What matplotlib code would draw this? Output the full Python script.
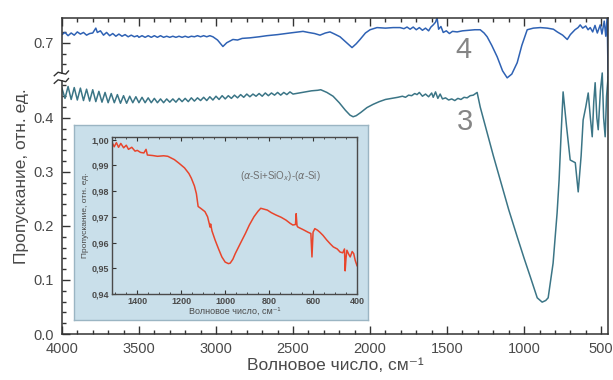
import numpy as np
import matplotlib
matplotlib.use("Agg")
import matplotlib.pyplot as plt
from matplotlib.ticker import MultipleLocator, FixedLocator

plt.rcParams['font.family'] = ['Liberation Sans', 'DejaVu Sans']

# curve 3 (lower), wavenumber cm-1 / transmittance
curve3 = [
    (4000, 0.455), (3980, 0.436), (3960, 0.458), (3940, 0.434), (3920, 0.456),
    (3900, 0.433), (3880, 0.455), (3860, 0.432), (3840, 0.453), (3820, 0.431),
    (3800, 0.452), (3780, 0.430), (3760, 0.449), (3740, 0.429), (3720, 0.447),
    (3700, 0.428), (3680, 0.445), (3660, 0.428), (3640, 0.443), (3620, 0.427),
    (3600, 0.441), (3580, 0.427), (3560, 0.440), (3540, 0.428), (3520, 0.439),
    (3500, 0.428), (3480, 0.438), (3460, 0.428), (3440, 0.437), (3420, 0.428),
    (3400, 0.436), (3380, 0.428), (3360, 0.435), (3340, 0.428), (3320, 0.435),
    (3300, 0.429), (3280, 0.435), (3260, 0.429), (3240, 0.436), (3220, 0.430),
    (3200, 0.436), (3180, 0.430), (3160, 0.437), (3140, 0.431), (3120, 0.437),
    (3100, 0.432), (3080, 0.438), (3060, 0.432), (3040, 0.439), (3020, 0.433),
    (3000, 0.440), (2980, 0.434), (2960, 0.441), (2940, 0.435), (2920, 0.441),
    (2900, 0.436), (2880, 0.442), (2860, 0.437), (2840, 0.443), (2820, 0.438),
    (2800, 0.444), (2780, 0.439), (2760, 0.444), (2740, 0.440), (2720, 0.445),
    (2700, 0.440), (2680, 0.446), (2660, 0.441), (2640, 0.446), (2620, 0.442),
    (2600, 0.447), (2580, 0.442), (2560, 0.447), (2540, 0.443), (2520, 0.448),
    (2500, 0.444), (2460, 0.446), (2420, 0.448), (2380, 0.450), (2340, 0.451),
    (2320, 0.452), (2280, 0.447), (2240, 0.440), (2200, 0.428), (2160, 0.414),
    (2130, 0.405), (2110, 0.402), (2090, 0.404), (2060, 0.410), (2020, 0.419),
    (1980, 0.425), (1940, 0.430), (1900, 0.434), (1860, 0.436), (1820, 0.438),
    (1790, 0.440), (1770, 0.438), (1750, 0.442), (1730, 0.441), (1710, 0.445),
    (1695, 0.443), (1680, 0.447), (1660, 0.440), (1640, 0.444), (1620, 0.439),
    (1600, 0.446), (1590, 0.438), (1575, 0.448), (1560, 0.436), (1545, 0.444),
    (1530, 0.435), (1510, 0.437), (1490, 0.433), (1470, 0.435), (1450, 0.432),
    (1430, 0.436), (1410, 0.434), (1390, 0.438), (1370, 0.437), (1350, 0.441),
    (1330, 0.442), (1305, 0.447), (1285, 0.420), (1240, 0.372), (1200, 0.330),
    (1155, 0.285), (1100, 0.230), (1045, 0.180), (1000, 0.140), (960, 0.106),
    (915, 0.067), (883, 0.059), (860, 0.062), (844, 0.067), (812, 0.131),
    (786, 0.224), (773, 0.285), (760, 0.370), (747, 0.448), (725, 0.385),
    (701, 0.322), (668, 0.317), (649, 0.263), (630, 0.330), (617, 0.396),
    (600, 0.420), (584, 0.446), (570, 0.400), (558, 0.365), (548, 0.430),
    (539, 0.465), (528, 0.400), (519, 0.378), (505, 0.450), (493, 0.483),
    (484, 0.400), (474, 0.365), (465, 0.440), (455, 0.476),
]

# curve 4 (upper, above the axis break)
curve4 = [
    (4000, 0.715), (3980, 0.719), (3960, 0.713), (3940, 0.718), (3920, 0.714),
    (3900, 0.720), (3880, 0.716), (3860, 0.719), (3840, 0.714), (3820, 0.717),
    (3800, 0.718), (3780, 0.727), (3770, 0.719), (3750, 0.722), (3730, 0.714),
    (3710, 0.719), (3690, 0.713), (3670, 0.717), (3650, 0.712), (3630, 0.716),
    (3610, 0.712), (3590, 0.715), (3570, 0.711), (3550, 0.714), (3530, 0.711),
    (3510, 0.713), (3500, 0.710), (3480, 0.713), (3460, 0.710), (3440, 0.713),
    (3420, 0.710), (3400, 0.713), (3380, 0.710), (3360, 0.713), (3340, 0.710),
    (3320, 0.712), (3300, 0.710), (3280, 0.712), (3260, 0.710), (3240, 0.712),
    (3220, 0.710), (3200, 0.712), (3180, 0.710), (3160, 0.712), (3140, 0.711),
    (3120, 0.713), (3100, 0.711), (3080, 0.713), (3060, 0.711), (3040, 0.713),
    (3020, 0.711), (2990, 0.705), (2955, 0.693), (2930, 0.700), (2890, 0.706),
    (2860, 0.705), (2830, 0.708), (2780, 0.709), (2720, 0.711), (2670, 0.713),
    (2600, 0.715), (2520, 0.718), (2460, 0.720), (2435, 0.721), (2400, 0.719),
    (2360, 0.717), (2325, 0.714), (2290, 0.718), (2260, 0.720), (2230, 0.716),
    (2195, 0.711), (2160, 0.702), (2117, 0.691), (2090, 0.698), (2065, 0.706),
    (2030, 0.718), (2000, 0.724), (1955, 0.728), (1900, 0.727), (1850, 0.728),
    (1805, 0.728), (1780, 0.726), (1760, 0.729), (1740, 0.725), (1720, 0.729),
    (1700, 0.724), (1680, 0.728), (1660, 0.723), (1640, 0.727), (1620, 0.722),
    (1605, 0.729), (1590, 0.733), (1575, 0.738), (1565, 0.746), (1555, 0.725),
    (1540, 0.730), (1525, 0.719), (1505, 0.722), (1485, 0.717), (1465, 0.721),
    (1435, 0.720), (1400, 0.722), (1360, 0.723), (1320, 0.724), (1285, 0.724),
    (1260, 0.718), (1240, 0.711), (1210, 0.695), (1175, 0.674), (1140, 0.648),
    (1110, 0.635), (1080, 0.642), (1045, 0.663), (1015, 0.695), (980, 0.724),
    (940, 0.727), (895, 0.728), (850, 0.727), (810, 0.725), (785, 0.720),
    (750, 0.714), (720, 0.706), (700, 0.715), (670, 0.724), (650, 0.728),
    (636, 0.733), (620, 0.727), (600, 0.731), (585, 0.724), (571, 0.728),
    (555, 0.720), (540, 0.732), (525, 0.718), (506, 0.733), (495, 0.716),
    (480, 0.740), (470, 0.712), (461, 0.748), (455, 0.635),
]

# inset: (a-Si+SiOx)-(a-Si) difference spectrum
inset_curve = [
    (1515, 0.9990), (1505, 0.9972), (1495, 0.9988), (1485, 0.9970), (1475, 0.9985),
    (1462, 0.9968), (1450, 0.9978), (1440, 0.9962), (1425, 0.9970), (1410, 0.9955),
    (1400, 0.9958), (1385, 0.9950), (1370, 0.9948), (1360, 0.9962), (1354, 0.9940),
    (1330, 0.9938), (1308, 0.9935), (1280, 0.9937), (1261, 0.9935), (1231, 0.9922),
    (1210, 0.9908), (1185, 0.9890), (1165, 0.9868), (1154, 0.9850), (1140, 0.9820),
    (1131, 0.9790), (1123, 0.9740), (1110, 0.9732), (1092, 0.9720), (1080, 0.9700),
    (1072, 0.9672), (1069, 0.9660), (1066, 0.9672), (1060, 0.9645), (1046, 0.9610),
    (1030, 0.9575), (1015, 0.9544), (1000, 0.9524), (985, 0.9518), (977, 0.9520),
    (965, 0.9535), (954, 0.9557), (930, 0.9598), (908, 0.9635), (890, 0.9668),
    (869, 0.9700), (850, 0.9722), (838, 0.9733), (825, 0.9730), (808, 0.9726),
    (790, 0.9716), (769, 0.9707), (745, 0.9698), (723, 0.9687), (705, 0.9675),
    (692, 0.9668), (680, 0.9670), (677, 0.9712), (673, 0.9665), (669, 0.9660),
    (645, 0.9650), (623, 0.9640), (610, 0.9635), (605, 0.9544), (600, 0.9640),
    (592, 0.9654), (580, 0.9648), (569, 0.9640), (555, 0.9628), (538, 0.9610),
    (522, 0.9595), (508, 0.9583), (490, 0.9575), (477, 0.9563), (465, 0.9560),
    (457, 0.9575), (454, 0.9490), (450, 0.9540), (446, 0.9570), (438, 0.9555),
    (431, 0.9544), (422, 0.9565), (415, 0.9557), (408, 0.9530), (400, 0.9510),
]

xticks_main = [4000, 3500, 3000, 2500, 2000, 1500, 1000, 500]
yticks_low = [0.0, 0.1, 0.2, 0.3, 0.4]
ytick_high = 0.7
break_shift = 0.161   # how far the upper curve is pulled down under the break

w3, t3 = np.array(curve3).T
w4, t4 = np.array(curve4).T
wi, ti = np.array(inset_curve).T

txt = '#4a4a4a'
fig = plt.figure(figsize=(6.13, 3.80), dpi=100)
ax = fig.add_axes([0.101, 0.121, 0.891, 0.832])

ax.plot(w4, t4 - break_shift, color='#2f62b4', lw=1.1)
ax.plot(w3, t3, color='#3b7586', lw=1.1)

ax.set_xlim(4000, 455)
ax.set_ylim(0, 0.585)
ax.set_xticks(xticks_main)
ax.xaxis.set_minor_locator(MultipleLocator(100))
ypos = yticks_low + [ytick_high - break_shift]
ax.set_yticks(ypos, [f'{v:.1f}' for v in yticks_low] + [f'{ytick_high:.1f}'])
yminor = [v / 100 for v in range(2, 47, 2) if v % 10] + \
         [v - break_shift for v in (0.66, 0.68, 0.72)]
ax.yaxis.set_minor_locator(FixedLocator(yminor))
ax.tick_params(which='both', direction='in', top=True, right=False,
               colors='#333333', labelcolor=txt, labelsize=10.5, width=1.0)
ax.tick_params(which='major', length=6)
ax.tick_params(which='minor', length=3)
ax.tick_params(axis='x', pad=6)
ax.tick_params(axis='y', pad=6)
for s in ax.spines.values():
    s.set_color('#333333')
    s.set_linewidth(1.1)
ax.set_xlabel('Волновое число, см⁻¹', fontsize=12.5, color=txt, labelpad=1)
ax.set_ylabel('Пропускание, отн. ед.', fontsize=12.5, color=txt, labelpad=3)

ax.text(1396, 0.526, '4', fontsize=21, color='#858585', ha='center', va='center')
ax.text(1383, 0.393, '3', fontsize=21, color='#858585', ha='center', va='center')

# axis break mark on the left spine
yb = 0.813
ax.add_patch(plt.Rectangle((-0.006, yb - 0.011), 0.012, 0.022, transform=ax.transAxes,
                           facecolor='white', edgecolor='none', clip_on=False, zorder=5))
for dy in (-0.012, 0.012):
    ax.plot([-0.014, -0.007, 0.0, 0.007, 0.012],
            [yb + dy - 0.008, yb + dy + 0.003, yb + dy, yb + dy - 0.003, yb + dy + 0.007],
            transform=ax.transAxes, color='#333333', lw=1.0, clip_on=False, zorder=6)

# inset panel
bg = fig.add_axes([0.1207, 0.158, 0.4796, 0.513])
bg.set_facecolor('#c9dfea')
bg.set_xticks([])
bg.set_yticks([])
for s in bg.spines.values():
    s.set_color('#9bb5c3')
    s.set_linewidth(1.0)

ins = fig.add_axes([0.1827, 0.2263, 0.3997, 0.4132])
ins.set_facecolor('#c9dfea')
ins.plot(wi, ti, color='#e8452c', lw=1.1)
ins.set_xlim(1515, 400)
ins.set_ylim(0.94, 1.001)
ins.set_xticks([1400, 1200, 1000, 800, 600, 400])
ins.xaxis.set_minor_locator(MultipleLocator(50))
yt = [0.94, 0.95, 0.96, 0.97, 0.98, 0.99, 1.00]
ins.set_yticks(yt, [f'{v:.2f}'.replace('.', ',') for v in yt])
ins.tick_params(which='both', direction='in', top=True, right=False,
                colors='#333333', labelcolor='#4a4a4a', labelsize=6.5, pad=2)
ins.tick_params(which='major', length=3)
ins.tick_params(which='minor', length=1.5)
for lab in ins.get_xticklabels() + ins.get_yticklabels():
    lab.set_fontweight('bold')
for s in ins.spines.values():
    s.set_color('#4a4a4a')
    s.set_linewidth(1.0)
ins.set_xlabel('Волновое число, см⁻¹', fontsize=6.5, color=txt, labelpad=1)
ins.set_ylabel('Пропускание, отн. ед.', fontsize=6, color=txt, labelpad=2)
ins.text(0.686, 0.752, r'($\alpha$-Si+SiO$_x$)-($\alpha$-Si)', transform=ins.transAxes,
         fontsize=7, color='#707070', ha='center', va='center')

fig.savefig('out.png', dpi=100)
